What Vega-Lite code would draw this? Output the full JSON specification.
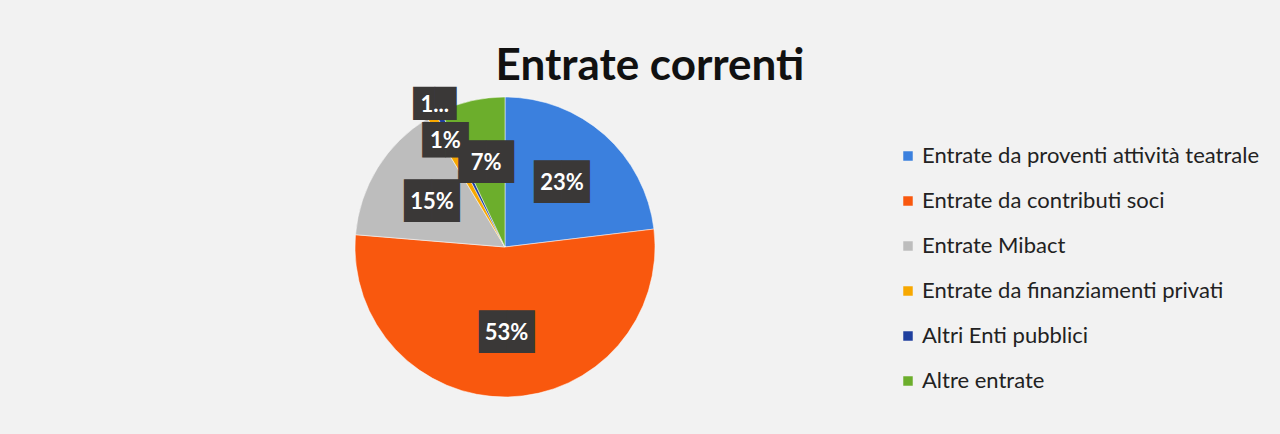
{
  "$schema": "https://vega.github.io/schema/vega-lite/v6.json",
  "width": 1010,
  "height": 300,
  "autosize": {"type": "none"},
  "padding": {"left": 0, "top": 97, "right": 270, "bottom": 37},
  "background": "#f2f2f2",
  "config": {"view": {"stroke": null}},
  "title": {
    "text": "Entrate correnti",
    "font": "Lato",
    "fontWeight": "bold",
    "fontSize": 44,
    "color": "#111111",
    "anchor": "middle",
    "frame": "group",
    "dx": 145,
    "offset": -10
  },
  "data": {
    "values": [
      {"categoria": "Entrate da proventi attività teatrale", "valore": 23, "etichetta": "23%"},
      {"categoria": "Entrate da contributi soci", "valore": 53, "etichetta": "53%"},
      {"categoria": "Entrate Mibact", "valore": 15, "etichetta": "15%"},
      {"categoria": "Entrate da finanziamenti privati", "valore": 1, "etichetta": "1%"},
      {"categoria": "Altri Enti pubblici", "valore": 0.6, "etichetta": "1..."},
      {"categoria": "Altre entrate", "valore": 7, "etichetta": "7%"}
    ]
  },
  "transform": [{"window": [{"op": "row_number", "as": "ordine"}]}],
  "encoding": {
    "theta": {"field": "valore", "type": "quantitative", "stack": true},
    "order": {"field": "ordine", "type": "quantitative"}
  },
  "layer": [
    {
      "mark": {"type": "arc", "outerRadius": 150, "stroke": "#ffffff", "strokeWidth": 0.5},
      "encoding": {
        "color": {
          "field": "categoria",
          "type": "nominal",
          "sort": null,
          "scale": {
            "domain": ["Entrate da proventi attività teatrale", "Entrate da contributi soci", "Entrate Mibact", "Entrate da finanziamenti privati", "Altri Enti pubblici", "Altre entrate"],
            "range": ["#3b80de", "#f9580e", "#bdbdbd", "#f7a800", "#1f3f9e", "#6cae2c"]
          },
          "legend": {
            "title": null,
            "orient": "none",
            "legendX": 897,
            "legendY": 48,
            "symbolType": "square",
            "symbolSize": 90,
            "symbolStrokeWidth": 0,
            "labelFont": "Lato",
            "labelFontSize": 22,
            "labelColor": "#222222",
            "labelLimit": 400,
            "rowPadding": 23,
            "labelOffset": 3
          }
        }
      }
    },
    {
      "mark": {"type": "text", "radius": 86, "font": "DejaVu Sans", "fontSize": 36, "baseline": "middle", "align": "center", "color": "#3a3837"},
      "encoding": {
        "text": {"condition": {"test": "datum.valore >= 5", "value": "██"}, "value": ""}
      }
    },
    {
      "mark": {"type": "text", "radius": 86, "font": "Lato", "fontWeight": "bold", "fontSize": 22, "baseline": "middle", "align": "center", "color": "#ffffff"},
      "encoding": {
        "text": {"condition": {"test": "datum.valore >= 5", "field": "etichetta"}, "value": ""}
      }
    },
    {
      "mark": {"type": "text", "radius": 122, "font": "DejaVu Sans", "fontSize": 30, "baseline": "middle", "align": "center", "color": "#3a3837"},
      "encoding": {
        "text": {"condition": {"test": "datum.valore == 1", "value": "██"}, "value": ""}
      }
    },
    {
      "mark": {"type": "text", "radius": 122, "font": "Lato", "fontWeight": "bold", "fontSize": 22, "baseline": "middle", "align": "center", "color": "#ffffff"},
      "encoding": {
        "text": {"condition": {"test": "datum.valore == 1", "field": "etichetta"}, "value": ""}
      }
    },
    {
      "mark": {"type": "text", "radius": 158, "font": "DejaVu Sans", "fontSize": 28, "baseline": "middle", "align": "center", "color": "#3a3837"},
      "encoding": {
        "text": {"condition": {"test": "datum.valore < 1", "value": "██"}, "value": ""}
      }
    },
    {
      "mark": {"type": "text", "radius": 158, "font": "Lato", "fontWeight": "bold", "fontSize": 22, "baseline": "middle", "align": "center", "color": "#ffffff"},
      "encoding": {
        "text": {"condition": {"test": "datum.valore < 1", "field": "etichetta"}, "value": ""}
      }
    }
  ]
}
